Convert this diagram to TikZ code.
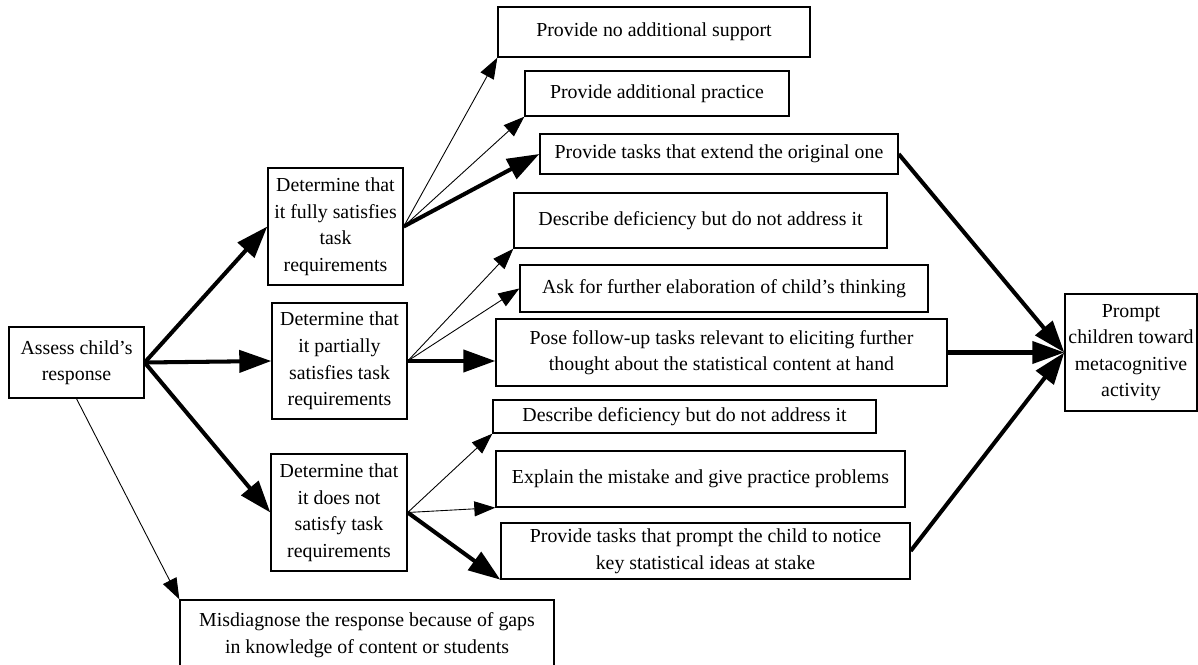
\documentclass[tikz,border=0pt]{standalone}
\usepackage{fontspec}
\setmainfont{Liberation Serif}
\usetikzlibrary{arrows.meta}
\tikzset
{
    box/.style        = {rectangle, draw=black, line width=0.8pt, align=center, inner sep=0pt, font=\fontsize{11.3}{15.1}\selectfont},
    thinarrow/.style  = {line width=0.5pt, -{Triangle[length=0.42cm, width=0.3cm]}},
    thickarrow/.style = {line width=2.3pt, -{Triangle[length=0.64cm, width=0.44cm]}}
}

\begin{document}
\begin{tikzpicture}[x=0.02cm, y=-0.02cm]

   \useasboundingbox (0,0) rectangle (1198,665);

   % left column
   \node (assess) [box, minimum width=2.7cm, minimum height=1.42cm]   at (76.5, 362.5)  {Assess child's\\response};
   \node (full)   [box, minimum width=2.7cm, minimum height=2.34cm]   at (335.5, 226.5) {Determine that\\it fully satisfies\\task\\requirements};
   \node (part)   [box, minimum width=2.7cm, minimum height=2.32cm]   at (339.5, 361)   {Determine that\\it partially\\satisfies task\\requirements};
   \node (nots)   [box, minimum width=2.72cm, minimum height=2.34cm]  at (339, 512.5)   {Determine that\\it does not\\satisfy task\\requirements};
   \node (misdx)  [box, minimum width=7.48cm, minimum height=1.4cm]   at (367, 635)     {Misdiagnose the response because of gaps\\in knowledge of content or students};

   % responses
   \node (nosup)  [box, minimum width=6.24cm, minimum height=1.0cm]   at (654, 32)      {Provide no additional support};
   \node (addpr)  [box, minimum width=5.28cm, minimum height=0.9cm]   at (657, 93.5)    {Provide additional practice};
   \node (extend) [box, minimum width=7.16cm, minimum height=0.8cm]   at (719, 154)     {Provide tasks that extend the original one};
   \node (descA)  [box, minimum width=7.46cm, minimum height=1.1cm]   at (700.5, 220.5) {Describe deficiency but do not address it};
   \node (elab)   [box, minimum width=8.16cm, minimum height=0.94cm]  at (724, 288.5)   {Ask for further elaboration of child's thinking};
   \node (pose)   [box, minimum width=9.02cm, minimum height=1.34cm]  at (721.5, 352.5) {Pose follow-up tasks relevant to eliciting further\\thought about the statistical content at hand};
   \node (descB)  [box, minimum width=7.66cm, minimum height=0.66cm]  at (684.5, 416.5) {Describe deficiency but do not address it};
   \node (expl)   [box, minimum width=8.18cm, minimum height=1.12cm]  at (700.5, 479)   {Explain the mistake and give practice problems};
   \node (notice) [box, minimum width=8.18cm, minimum height=1.12cm]  at (705.5, 551)   {Provide tasks that prompt the child to notice\\key statistical ideas at stake};

   % right
   \node (prompt) [box, minimum width=2.64cm, minimum height=2.34cm]  at (1131, 352.5)  {Prompt\\children toward\\metacognitive\\activity};

   \path
      (assess.east)  edge[thickarrow]  (full.west)
      (assess.east)  edge[thickarrow]  (part.west)
      (assess.east)  edge[thickarrow]  (nots.west)
      (assess.south) edge[thinarrow]   (misdx.north west)
      (full.east)    edge[thinarrow]   (nosup.south west)
      (full.east)    edge[thinarrow]   (addpr.south west)
      (full.east)    edge[thickarrow]  (extend.west)
      (part.east)    edge[thinarrow]   (descA.south west)
      (part.east)    edge[thinarrow]   (elab.west)
      (part.east)    edge[thickarrow]  (part.east -| pose.west)
      (nots.east)    edge[thinarrow]   (descB.south west)
      (nots.east)    edge[thinarrow]   (expl.south west)
      (nots.east)    edge[thickarrow]  (notice.south west)
      (extend.east)  edge[thickarrow]  (prompt.west)
      (pose.east)    edge[thickarrow]  (prompt.west)
      (notice.east)  edge[thickarrow]  (prompt.west);

\end{tikzpicture}
\end{document}
